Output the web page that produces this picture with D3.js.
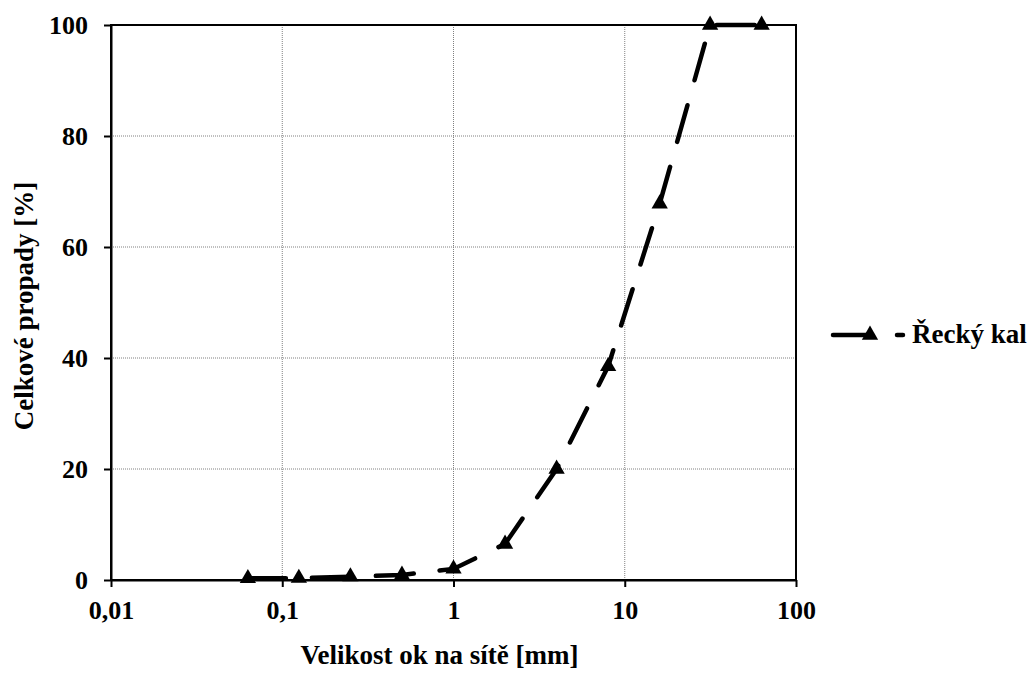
<!DOCTYPE html>
<html>
<head>
<meta charset="utf-8">
<script src="https://cdn.jsdelivr.net/npm/d3@7"></script>
<style>
  body { margin: 0; background: #fff; }
  svg text { font-family: "Liberation Serif", "Times New Roman", serif; font-weight: bold; fill: #000; }
</style>
</head>
<body>
<svg id="chart" width="1030" height="673"></svg>
<script>
// data
var sieveSizes = [0.063, 0.125, 0.25, 0.5, 1, 2, 4, 8, 16, 31.5, 63];
var passing    = [0.3, 0.35, 0.6, 0.9, 2.0, 6.5, 20.0, 38.5, 67.8, 100, 100];
var xTicks     = [0.01, 0.1, 1, 10, 100];
var xTickLabels = ['0,01', '0,1', '1', '10', '100'];
var yTicks     = [0, 20, 40, 60, 80, 100];
var seriesName = 'Řecký kal';

var svg = d3.select('#chart');
var plotL = 111, plotR = 796, plotT = 25, plotB = 580;

var x = d3.scaleLog().domain([0.01, 100]).range([plotL, plotR]);
var y = d3.scaleLinear().domain([0, 100]).range([plotB, plotT]);

// grid
var grid = svg.append('g');
grid.selectAll('line.gx')
  .data(xTicks.slice(1, -1))
  .enter().append('line')
  .attr('x1', function(d){ return x(d); })
  .attr('x2', function(d){ return x(d); })
  .attr('y1', plotT).attr('y2', plotB)
  .attr('stroke', '#808080').attr('stroke-width', 1).attr('stroke-dasharray', '1,1');
grid.selectAll('line.gy')
  .data(yTicks.slice(1, -1))
  .enter().append('line')
  .attr('y1', function(d){ return y(d); })
  .attr('y2', function(d){ return y(d); })
  .attr('x1', plotL).attr('x2', plotR)
  .attr('stroke', '#808080').attr('stroke-width', 1).attr('stroke-dasharray', '1,1');

// frame
svg.append('rect')
  .attr('x', plotL).attr('y', plotT)
  .attr('width', plotR - plotL).attr('height', plotB - plotT)
  .attr('fill', 'none').attr('stroke', '#000').attr('stroke-width', 2);

// axes
var xAxis = d3.axisBottom(x)
  .tickValues(xTicks)
  .tickFormat(function(d, i){ return xTickLabels[i]; })
  .tickSize(7).tickSizeOuter(0).tickPadding(14);
var gx = svg.append('g').attr('transform', 'translate(0,' + plotB + ')').call(xAxis);
gx.select('.domain').attr('stroke', '#000').attr('stroke-width', 2);
gx.selectAll('.tick line').attr('stroke', '#000').attr('stroke-width', 2);
gx.selectAll('.tick text').style('font-size', '26px');

var yAxis = d3.axisLeft(y)
  .tickValues(yTicks)
  .tickSize(7).tickSizeOuter(0).tickPadding(16);
var gy = svg.append('g').attr('transform', 'translate(' + plotL + ',0)').call(yAxis);
gy.select('.domain').attr('stroke', '#000').attr('stroke-width', 2);
gy.selectAll('.tick line').attr('stroke', '#000').attr('stroke-width', 2);
gy.selectAll('.tick text').style('font-size', '26px');

// axis titles
svg.append('text')
  .attr('x', (plotL + plotR) / 2 - 14).attr('y', 664)
  .attr('text-anchor', 'middle')
  .style('font-size', '27px')
  .text('Velikost ok na sítě [mm]');

svg.append('text')
  .attr('transform', 'translate(33,306) rotate(-90)')
  .attr('text-anchor', 'middle')
  .style('font-size', '27px')
  .text('Celkové propady [%]');

// series
var pts = sieveSizes.map(function(s, i){ return [s, passing[i]]; });
var line = d3.line()
  .x(function(d){ return x(d[0]); })
  .y(function(d){ return y(d[1]); });

svg.append('path')
  .datum(pts)
  .attr('d', line)
  .attr('fill', 'none')
  .attr('stroke', '#000')
  .attr('stroke-width', 4.5)
  .attr('stroke-linecap', 'round')
  .attr('stroke-dasharray', '38,26');

var tri = d3.symbol().type(d3.symbolTriangle).size(115);
svg.selectAll('path.pt')
  .data(pts)
  .enter().append('path')
  .attr('class', 'pt')
  .attr('d', tri)
  .attr('transform', function(d){ return 'translate(' + x(d[0]) + ',' + y(d[1]) + ')'; })
  .attr('fill', '#000');

// legend
var lg = svg.append('g').attr('transform', 'translate(0,335)');
lg.append('path')
  .attr('d', 'M833,0L903,0')
  .attr('stroke', '#000').attr('stroke-width', 4.5)
  .attr('stroke-linecap', 'round')
  .attr('stroke-dasharray', '38,26');
lg.append('path')
  .attr('d', tri)
  .attr('transform', 'translate(870,0)')
  .attr('fill', '#000');
lg.append('text')
  .attr('x', 912).attr('y', 8)
  .style('font-size', '27px')
  .text(seriesName);
</script>
</body>
</html>
